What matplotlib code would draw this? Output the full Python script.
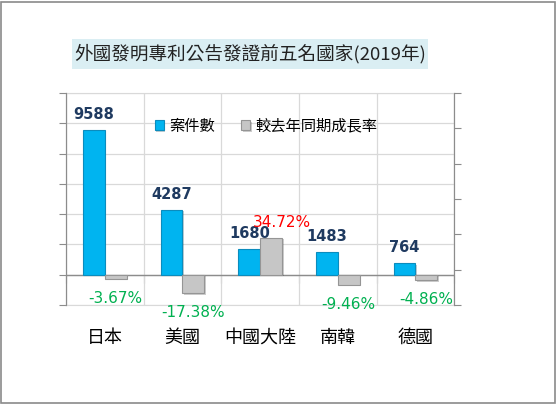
import matplotlib
matplotlib.use("Agg")
import matplotlib.pyplot as plt
import matplotlib.patheffects as pe
from matplotlib.patches import Rectangle
import numpy as np

countries = ["日本", "美國", "中國大陸", "南韓", "德國"]
cases = [9588, 4287, 1680, 1483, 764]
growth = [-3.67, -17.38, 34.72, -9.46, -4.86]  # percent
title = "外國發明專利公告發證前五名國家(2019年)"

cjk = ["Noto Sans CJK TC", "DejaVu Sans"]
plt.rcParams["font.family"] = cjk

fig = plt.figure(figsize=(5.56, 4.09), dpi=100)
ax1 = fig.add_axes([66 / 556, 1 - 305 / 409, 388.3 / 556, 212 / 409])
ax2 = ax1.twinx()

x = np.arange(len(countries))
w = 0.28
shadow = [pe.SimplePatchShadow(offset=(1.2, -1.2), alpha=0.25), pe.Normal()]

b1 = ax1.bar(x - w / 2, cases, w, color="#00B4F0", edgecolor="#0B8CBD",
             linewidth=0.8, label="案件數", zorder=3)
b2 = ax2.bar(x + w / 2, np.array(growth) / 100, w, color="#C6C6C6",
             edgecolor="#959595", linewidth=0.8, label="較去年同期成長率", zorder=3)
for p in list(b1) + list(b2):
    p.set_path_effects(shadow)

# axes ranges
ax1.set_xlim(-0.5, len(countries) - 0.5)
ax1.set_ylim(-2000, 12000)
lo = -1.7 / 6
ax2.set_ylim(lo, 1.7)

ax1.set_yticks(np.arange(-2000, 12001, 2000))
ax2.set_yticks(np.linspace(lo, 1.7, 7))
ax1.set_yticklabels([])
ax2.set_yticklabels([])
ax1.tick_params(axis="y", direction="out", length=5, color="#8C8C8C")
ax2.tick_params(axis="y", direction="out", length=5, color="#8C8C8C")

# grid
ax1.grid(axis="y", color="#D9D9D9", linewidth=0.9, zorder=0)
ax1.set_xticks(np.arange(len(countries) + 1) - 0.5, minor=True)
ax1.grid(axis="x", which="minor", color="#D9D9D9", linewidth=0.9, zorder=0)
ax1.set_axisbelow(True)

ax1.set_xticks(x)
ax1.set_xticklabels(countries, fontsize=13, family=cjk)
ax1.tick_params(axis="x", which="major", length=0, pad=17)
ax1.tick_params(axis="x", which="minor", length=0)

for s in ["left", "right"]:
    ax1.spines[s].set_color("#8C8C8C")
    ax2.spines[s].set_color("#8C8C8C")
for s in ["top", "bottom"]:
    ax1.spines[s].set_color("#D9D9D9")
    ax2.spines[s].set_visible(False)

# zero line with category ticks
ax1.axhline(0, color="#8C8C8C", linewidth=1.0, zorder=2)
sec = ax1.secondary_xaxis(1 / 7)
sec.set_xticks(np.arange(len(countries) + 1) - 0.5)
sec.set_xticklabels([])
sec.tick_params(direction="out", length=6, color="#8C8C8C")
sec.spines["bottom"].set_visible(False)

# data labels
for xi, v in zip(x, cases):
    ax1.annotate(str(v), (xi - w / 2, v), xytext=(0, 11), textcoords="offset points",
                 ha="center", va="center", fontsize=10.5, fontweight="bold",
                 color="#1F3A60", family="DejaVu Sans", zorder=5)
for xi, g in zip(x, growth):
    off = (8, 11) if g > 0 else (0, -14)
    ax2.annotate(f"{g:.2f}%", (xi + w / 2, g / 100), xytext=off,
                 textcoords="offset points", ha="center", va="center",
                 fontsize=11, color="#FF0000" if g > 0 else "#00B050",
                 family="DejaVu Sans", zorder=5)

# legend
fig.legend(handles=[b1, b2], loc="center", bbox_to_anchor=(266 / 556, 1 - 126 / 409),
           ncol=2, frameon=False, handlelength=0.6, handleheight=0.6,
           handletextpad=0.35, columnspacing=1.7, prop={"family": cjk, "size": 11})

# title box
fig.patches.append(Rectangle((72 / 556, 1 - 69 / 409), 356 / 556, 30 / 409,
                             transform=fig.transFigure, facecolor="#DAEEF3",
                             edgecolor="none", zorder=0))
fig.text(250 / 556, 1 - 54 / 409, title, ha="center", va="center", fontsize=13.4,
         color="#222222", family=cjk)

# outer frame
fig.patches.append(Rectangle((1 / 556, 1 - 403 / 409), 553.5 / 556, 401.5 / 409,
                             transform=fig.transFigure, facecolor="none",
                             edgecolor="#8A8A8A", linewidth=1.2))

fig.savefig("out.png", dpi=100)
